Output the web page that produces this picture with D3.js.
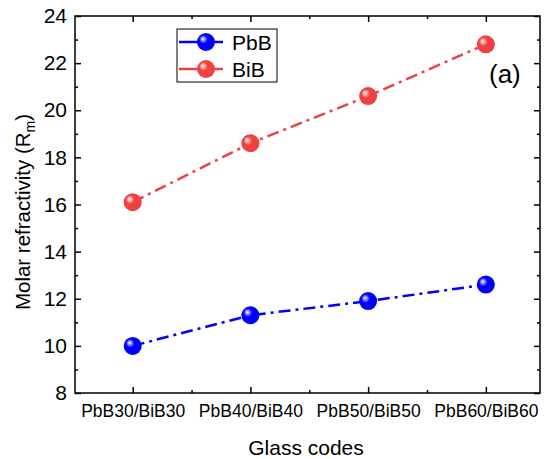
<!DOCTYPE html>
<html><head><meta charset="utf-8">
<script src="https://cdn.jsdelivr.net/npm/d3@7"></script>
<style>body{margin:0;background:#fff}svg{display:block;font-family:"Liberation Sans",Arial,sans-serif}</style>
</head><body>
<svg id="c" width="544" height="459"></svg>
<script>
const categories = ["PbB30/BiB30","PbB40/BiB40","PbB50/BiB50","PbB60/BiB60"];
const pbbValues = [10.0, 11.3, 11.9, 12.6];
const bibValues = [16.1, 18.6, 20.6, 22.8];
const yTicks = [8,10,12,14,16,18,20,22,24];

const svg = d3.select("#c");
const L=75, R=540, T=16, B=393;
const x = d3.scaleLinear().domain([0.51,4.46]).range([L,R]);
const y = d3.scaleLinear().domain([8,24]).range([B,T]);

const defs = svg.append("defs");
function grad(id, c) {
  const g = defs.append("radialGradient").attr("id",id).attr("cx","0.42").attr("cy","0.42").attr("r","0.6").attr("fx","0.32").attr("fy","0.32");
  g.append("stop").attr("offset","0").attr("stop-color","#ffffff");
  g.append("stop").attr("offset","0.4").attr("stop-color",c);
  g.append("stop").attr("offset","1").attr("stop-color",c);
}
grad("gb","#0000ff");
grad("gr","#f04040");

const xIdx = categories.map((d,i)=>i+1);
const minorX = [1.5,2.5,3.5];
const minorY = d3.range(9,24,2);

const bottom = svg.append("g").attr("transform",`translate(0,${B})`)
  .call(d3.axisBottom(x).tickValues(xIdx).tickFormat(d=>categories[d-1]).tickSizeInner(-6).tickSizeOuter(0).tickPadding(12));
bottom.selectAll("text").attr("font-size",17.5).attr("fill","#000");
svg.append("g").attr("transform",`translate(0,${B})`).call(d3.axisBottom(x).tickValues(minorX).tickFormat("").tickSizeInner(-3).tickSizeOuter(0));
svg.append("g").attr("transform",`translate(0,${T})`).call(d3.axisTop(x).tickValues(xIdx).tickFormat("").tickSizeInner(-6).tickSizeOuter(0));
svg.append("g").attr("transform",`translate(0,${T})`).call(d3.axisTop(x).tickValues(minorX).tickFormat("").tickSizeInner(-3).tickSizeOuter(0));

const left = svg.append("g").attr("transform",`translate(${L},0)`)
  .call(d3.axisLeft(y).tickValues(yTicks).tickFormat(d3.format("d")).tickSizeInner(-6).tickSizeOuter(0).tickPadding(8));
left.selectAll("text").attr("font-size",21).attr("fill","#000");
svg.append("g").attr("transform",`translate(${L},0)`).call(d3.axisLeft(y).tickValues(minorY).tickFormat("").tickSizeInner(-3).tickSizeOuter(0));
svg.append("g").attr("transform",`translate(${R},0)`).call(d3.axisRight(y).tickValues(yTicks).tickFormat("").tickSizeInner(-6).tickSizeOuter(0));
svg.append("g").attr("transform",`translate(${R},0)`).call(d3.axisRight(y).tickValues(minorY).tickFormat("").tickSizeInner(-3).tickSizeOuter(0));
svg.selectAll(".domain").remove();
svg.selectAll(".tick line").attr("stroke","#000").attr("stroke-width",1.5);

svg.append("rect").attr("x",L).attr("y",T).attr("width",R-L).attr("height",B-T)
  .attr("fill","none").attr("stroke","#000").attr("stroke-width",1.5);

const series = [
  {name:"PbB", values:pbbValues, color:"#0000ff", g:"gb"},
  {name:"BiB", values:bibValues, color:"#f04040", g:"gr"}
];
const line = d3.line().x((d,i)=>x(i+1)).y(d=>y(d));
series.forEach(s=>{
  svg.append("path").datum(s.values).attr("d",line).attr("fill","none")
    .attr("stroke",s.color).attr("stroke-width",2.5).attr("stroke-dasharray","12,5,3,5");
});
series.forEach(s=>{
  svg.selectAll(null).data(s.values).enter().append("circle")
    .attr("cx",(d,i)=>x(i+1)).attr("cy",d=>y(d)).attr("r",9)
    .attr("fill",`url(#${s.g})`);
});

// legend
const lg = svg.append("g");
lg.append("rect").attr("x",177).attr("y",29).attr("width",100).attr("height",53)
  .attr("fill","#fff").attr("stroke","#000").attr("stroke-width",1);
series.forEach((s,i)=>{
  const yy = 42 + i*27;
  lg.append("line").attr("x1",179).attr("x2",223).attr("y1",yy).attr("y2",yy).attr("stroke",s.color).attr("stroke-width",2.5);
  lg.append("circle").attr("cx",206).attr("cy",yy).attr("r",9).attr("fill",`url(#${s.g})`);
  lg.append("text").attr("x",232).attr("y",yy+8).attr("font-size",21).text(s.name);
});

// titles
svg.append("text").attr("x",306).attr("y",455).attr("text-anchor","middle").attr("font-size",21).text("Glass codes");
const yt = svg.append("text").attr("transform","translate(30,212) rotate(-90)").attr("text-anchor","middle").attr("font-size",20.5);
yt.append("tspan").text("Molar refractivity (R");
yt.append("tspan").attr("font-size",14).attr("dy",5).text("m");
yt.append("tspan").attr("dy",-5).text(")");
svg.append("text").attr("x",489).attr("y",83).attr("font-size",26).text("(a)");
</script>
</body></html>
